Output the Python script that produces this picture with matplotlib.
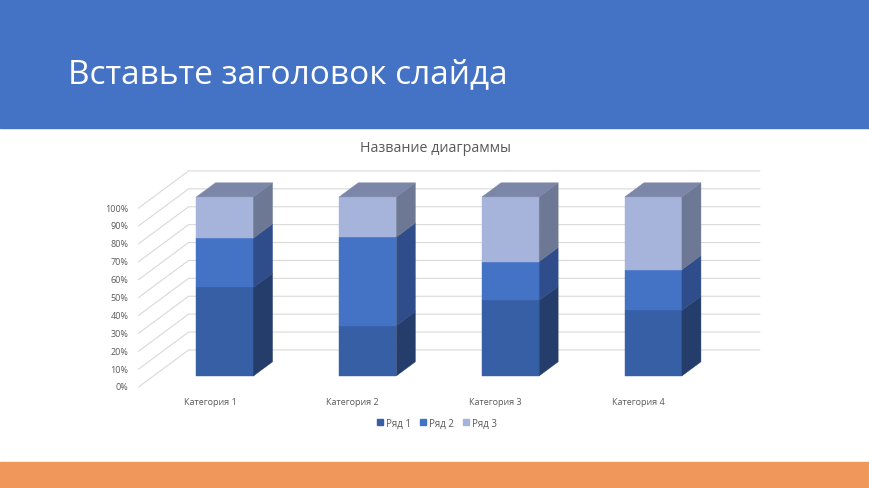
import matplotlib.pyplot as plt
from matplotlib.patches import Rectangle, Patch

# chart data (default PowerPoint sample, shown as 100% stacked)
categories = ["Категория 1", "Категория 2", "Категория 3", "Категория 4"]
series_names = ["Ряд 1", "Ряд 2", "Ряд 3"]
row1 = [4.3, 2.5, 3.5, 4.5]
row2 = [2.4, 4.4, 1.8, 2.8]
row3 = [2.0, 2.0, 3.0, 5.0]
pct_ticks = [0, 10, 20, 30, 40, 50, 60, 70, 80, 90, 100]

slide_title = "Вставьте заголовок слайда"
chart_title = "Название диаграммы"

# face colours per series: front, side, top
front_cols = ["#365FA5", "#4472C4", "#A6B3DA"]
side_cols = ["#243D6B", "#2E4D8A", "#6C7894"]
top_col = "#7B86A8"
grid_col = "#D9D9D9"
text_col = "#595959"

# oblique "3d" projection, in data units (1 = one category, y in %)
DX = 0.35
DY = 20.7
BAR_W = 0.4
D0, D1 = 0.30, 0.68


def proj(x, y, d):
    return x + d * DX, y + d * DY


def face(ax, pts, color):
    xs = [p[0] for p in pts]
    ys = [p[1] for p in pts]
    ax.fill(xs, ys, color=color, lw=0.3, ec=color, zorder=3)


W, H = 870, 489
fig = plt.figure(figsize=(W / 100, H / 100), dpi=100)
fig.patch.set_facecolor("white")
fig.patches.append(Rectangle((0, 1 - 129 / H), 1, 129 / H, transform=fig.transFigure,
                             color="#4472C4", zorder=0))
fig.patches.append(Rectangle((0, 0), 1, 26 / H, transform=fig.transFigure,
                             color="#F0985B", zorder=0))

ax = fig.add_axes([0, 0, 1, 1])
ax.set_xlim((0 - 210) / 142.8, (W - 210) / 142.8)
ax.set_ylim((388 - H) / 1.79, 388 / 1.79)
ax.axis("off")

# walls: side wall diagonals + back wall lines
x_left, x_right = -0.5, 3.5
for t in pct_ticks:
    a = proj(x_left, t, 0)
    b = proj(x_left, t, 1)
    c = proj(x_right, t, 1)
    ax.plot([a[0], b[0], c[0]], [a[1], b[1], c[1]], color=grid_col, lw=0.8, zorder=1)
    ax.text(x_left - 0.07, t, f"{t}%", ha="right", va="center", fontsize=6.5,
            color=text_col, family="Open Sans")

# bars
for i in range(len(categories)):
    vals = [row1[i], row2[i], row3[i]]
    tot = sum(vals)
    bottom = 0
    for s, v in enumerate(vals):
        top = bottom + v / tot * 100
        xl, xr = i - BAR_W / 2, i + BAR_W / 2
        # front
        face(ax, [proj(xl, bottom, D0), proj(xr, bottom, D0),
                  proj(xr, top, D0), proj(xl, top, D0)], front_cols[s])
        # right side
        face(ax, [proj(xr, bottom, D0), proj(xr, bottom, D1),
                  proj(xr, top, D1), proj(xr, top, D0)], side_cols[s])
        bottom = top
    xl, xr = i - BAR_W / 2, i + BAR_W / 2
    face(ax, [proj(xl, 100, D0), proj(xr, 100, D0),
              proj(xr, 100, D1), proj(xl, 100, D1)], top_col)
    ax.text(i, (388 - 403) / 1.79, categories[i], ha="center", va="center",
            fontsize=6.5, color=text_col, family="Open Sans")

# titles
fig.text(68 / W, 1 - 75 / H, slide_title, ha="left", va="center", fontsize=24,
         color="white", family="Open Sans")
fig.text(436 / W, 1 - 148 / H, chart_title, ha="center", va="center", fontsize=10.3,
         color=text_col, family="Open Sans")

handles = [Patch(facecolor=c, edgecolor=c) for c in front_cols]
leg = ax.legend(handles, series_names, loc="center", ncol=3, frameon=False,
                bbox_to_anchor=(437 / W, 1 - 424 / H), bbox_transform=fig.transFigure,
                handlelength=0.6, handleheight=0.6, handletextpad=0.35, columnspacing=0.9,
                prop={"family": "Open Sans", "size": 7})
for t in leg.get_texts():
    t.set_color(text_col)

fig.savefig("out.png", dpi=100)
